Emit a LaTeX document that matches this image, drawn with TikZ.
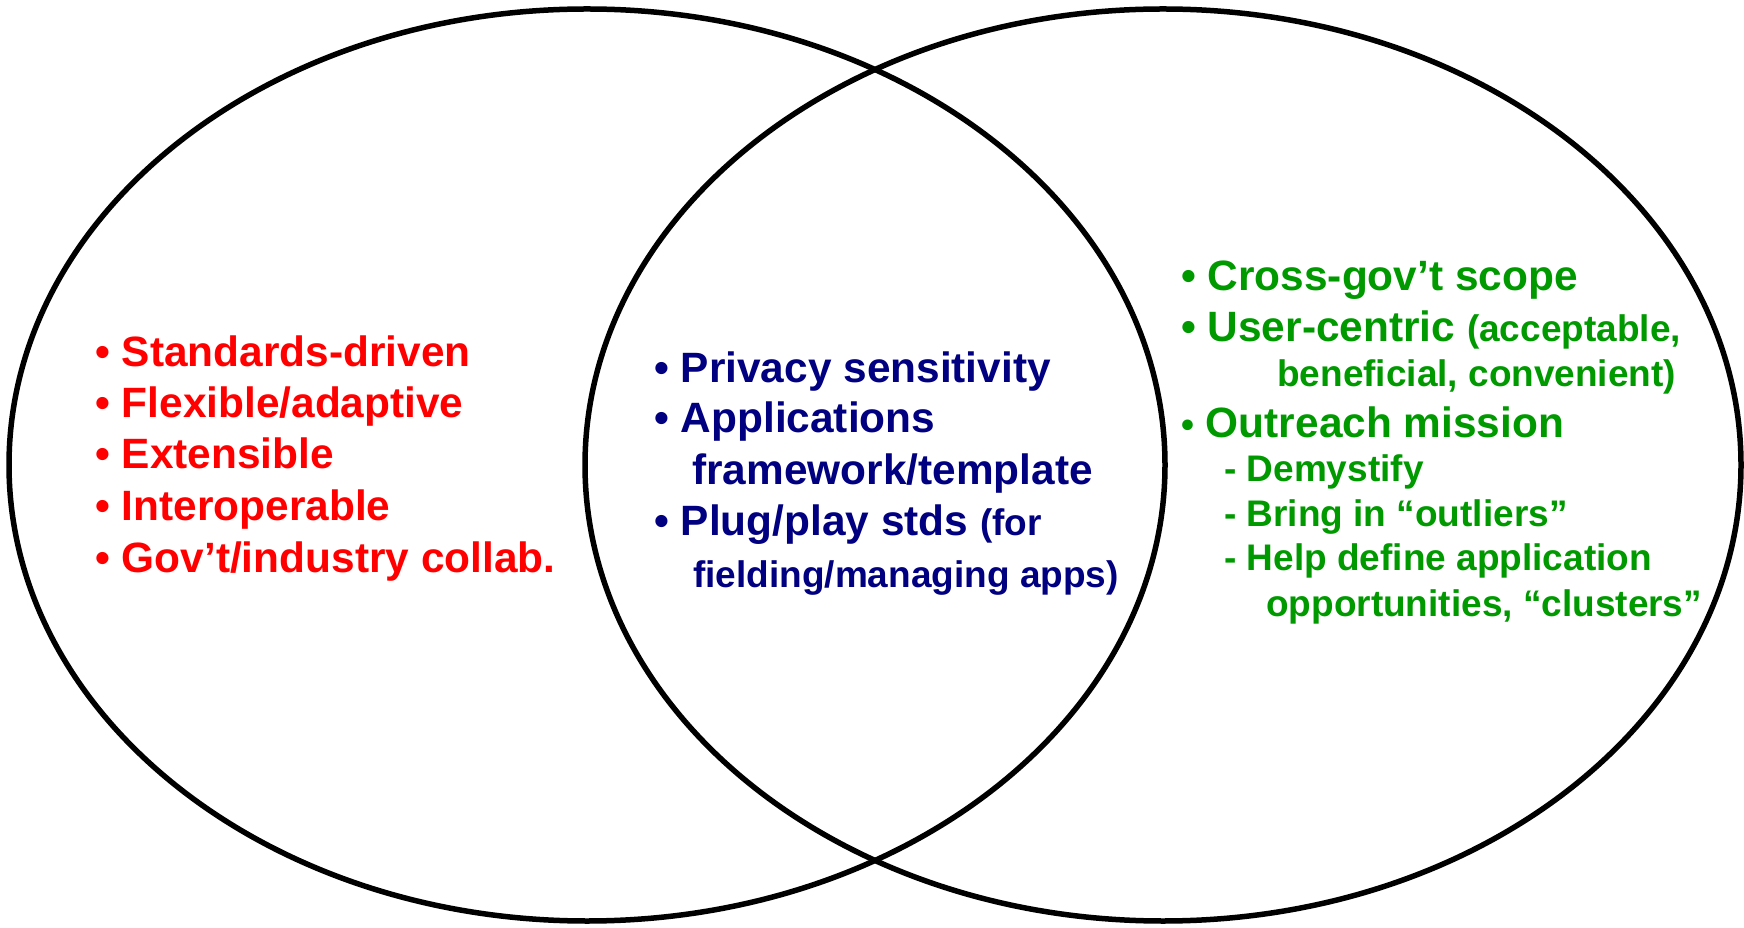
\documentclass[tikz,border=0pt]{standalone}
\usepackage{fontspec}
\setmainfont{Liberation Sans}
\definecolor{vennred}{RGB}{255,0,0}
\definecolor{vennnavy}{RGB}{0,0,128}
\definecolor{venngreen}{RGB}{0,153,0}
\newcommand{\subsize}{\fontsize{37}{44}\selectfont}
\tikzset{
  item/.style={anchor=base west,inner sep=0pt,font=\fontsize{42.4}{51}\selectfont\bfseries},
  reditem/.style={item,text=vennred},
  navyitem/.style={item,text=vennnavy},
  greenitem/.style={item,text=venngreen}
}
\begin{document}
\begin{tikzpicture}[x=1pt,y=1pt]
    \useasboundingbox (0,0) rectangle (1744,927);
    \begin{scope}
      \draw[line width=5.5pt] (587,462) ellipse [x radius=578, y radius=456];
      \draw[line width=5.5pt] (1163,462) ellipse [x radius=578, y radius=456];
      \node[reditem] (std) at (95,560) {• Standards-driven};
      \node[reditem] (flex) at (95,509) {• Flexible/adaptive};
      \node[reditem] (ext) at (95,458) {• Extensible};
      \node[reditem] (inter) at (95,406) {• Interoperable};
      \node[reditem] (collab) at (95,355) {• Gov’t/industry collab.};
      \node[navyitem] (priv) at (654,544) {• Privacy sensitivity};
      \node[navyitem] (appl) at (654,494) {• Applications};
      \node[navyitem] (frame) at (692,442) {framework/template};
      \node[navyitem] (plug) at (654,391) {• Plug/play stds {\subsize(for}};
      \node[navyitem] (field) at (693,340) {\subsize fielding/managing apps)};
      \node[greenitem] (cross) at (1181,636) {• Cross-gov’t scope};
      \node[greenitem] (user) at (1181,585) {• User-centric {\subsize(acceptable,}};
      \node[greenitem] (benef) at (1277,540) {\subsize beneficial, convenient)};
      \node[greenitem] (outr) at (1181,489) {{\subsize•} Outreach mission};
      \node[greenitem] (demy) at (1224,445) {\subsize - Demystify};
      \node[greenitem] (bring) at (1224,400) {\subsize - Bring in “outliers”};
      \node[greenitem] (help) at (1224,356) {\subsize - Help define application};
      \node[greenitem] (oppo) at (1266,311) {\subsize opportunities, “clusters”};
    \end{scope}
  \end{tikzpicture}
\end{document}
